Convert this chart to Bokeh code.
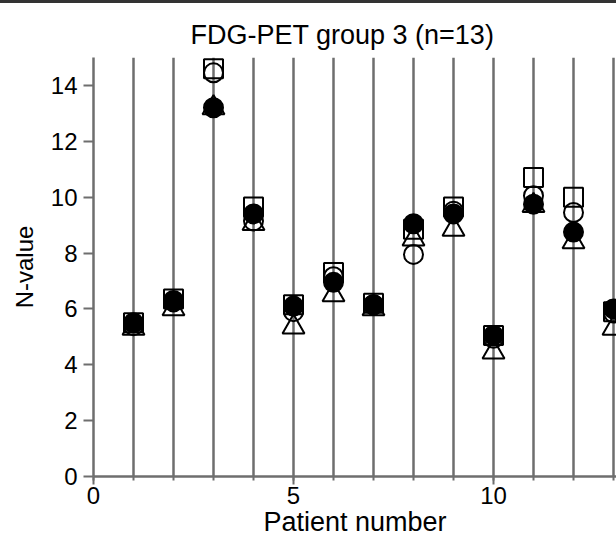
from bokeh.plotting import figure
from bokeh.models import SingleIntervalTicker, Range1d, ColumnDataSource, Div
from bokeh.layouts import column
from bokeh.embed import file_html
from bokeh.resources import INLINE

# ---- data ----
patients = [1, 2, 3, 4, 5, 6, 7, 8, 9, 10, 11, 12, 13]
open_square = [5.5, 6.35, 14.6, 9.65, 6.15, 7.3, 6.2, 8.85, 9.65, 5.05, 10.7, 10.0, 5.9]
open_circle = [5.4, 6.25, 14.45, 9.15, 5.9, 7.15, 6.15, 7.95, 9.5, 4.95, 10.05, 9.45, 5.85]
open_triangle = [5.3, 6.0, 13.2, 9.05, 5.35, 6.5, 6.0, 8.5, 8.85, 4.45, 9.7, 8.4, 5.3]
filled_circle = [5.5, 6.3, 13.2, 9.4, 6.1, 6.95, 6.15, 9.05, 9.4, 5.05, 9.75, 8.75, 6.0]

title_text = "FDG-PET group 3 (n=13)"
x_label = "Patient number"
y_label = "N-value"

FONT = "Liberation Sans"
GREY = "#6e6e6e"

# thin dark strip at the very top
strip = Div(text="", width=616, height=3, margin=0,
            styles={"background-color": "#333333", "width": "616px", "height": "3px"})

p = figure(width=616, height=538, toolbar_location=None, output_backend="svg",
           x_range=Range1d(0, 13.075), y_range=Range1d(0, 15),
           min_border_left=93, min_border_right=0, min_border_top=54, min_border_bottom=65,
           outline_line_color=None)
p.grid.visible = False

p.title.text = title_text
p.title.align = "left"
p.title.offset = 97
p.title.text_font = FONT
p.title.text_font_size = "27px"
p.title.text_font_style = "normal"
p.title.text_color = "black"
p.title.standoff = 16

# vertical patient lines
src_lines = ColumnDataSource(dict(x=patients, y0=[0] * len(patients), y1=[15] * len(patients)))
p.segment(x0="x", y0="y0", x1="x", y1="y1", source=src_lines, line_color=GREY, line_width=2.5)

common = dict(line_color="black", line_width=2)
p.scatter(patients, open_square, marker="square", size=19, fill_color=None, **common)
p.scatter(patients, open_circle, marker="circle", size=19, fill_color=None, **common)
p.scatter(patients, open_triangle, marker="triangle", size=22, fill_color=None, **common)
p.scatter(patients, filled_circle, marker="circle", size=19, fill_color="black", **common)

# axes
p.xaxis.ticker = SingleIntervalTicker(interval=5, num_minor_ticks=5)
p.yaxis.ticker = SingleIntervalTicker(interval=2, num_minor_ticks=0)
for ax in (p.xaxis[0], p.yaxis[0]):
    ax.axis_line_color = GREY
    ax.axis_line_width = 2.5
    ax.major_tick_line_color = GREY
    ax.major_tick_line_width = 2
    ax.major_tick_in = 0
    ax.major_label_text_font = FONT
    ax.major_label_text_font_size = "24px"
    ax.major_label_text_color = "black"
    ax.axis_label_text_font = FONT
    ax.axis_label_text_font_style = "normal"
    ax.axis_label_text_color = "black"

p.xaxis.axis_label = x_label
p.xaxis.axis_label_text_font_size = "27px"
p.xaxis.major_tick_out = 8
p.xaxis.minor_tick_out = 4
p.xaxis.minor_tick_in = 0
p.xaxis.minor_tick_line_color = GREY
p.xaxis.minor_tick_line_width = 2
p.xaxis.major_label_standoff = 2
p.xaxis.axis_label_standoff = 0

p.yaxis.axis_label = y_label
p.yaxis.axis_label_text_font_size = "24px"
p.yaxis.major_tick_out = 10
p.yaxis.minor_tick_out = 0
p.yaxis.major_label_standoff = 6
p.yaxis.axis_label_standoff = 10

layout = column(strip, p, spacing=0)
open("out.html", "w").write(file_html(layout, INLINE))
